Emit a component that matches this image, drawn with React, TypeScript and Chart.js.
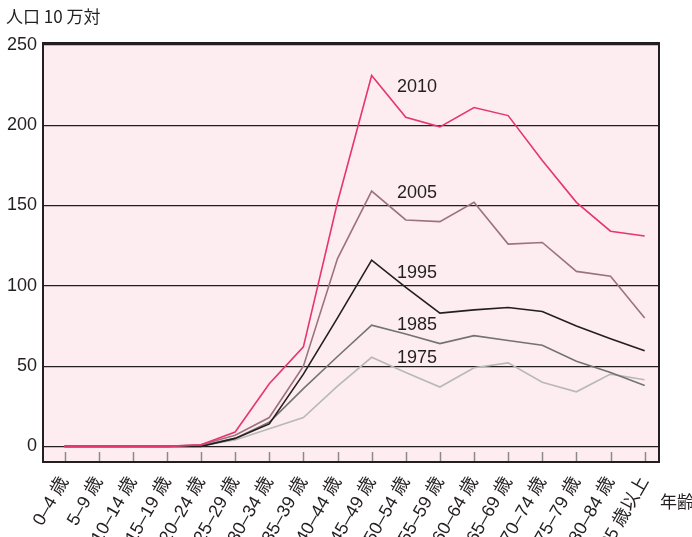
import { useEffect, useRef } from 'react';
import { Chart, registerables } from 'chart.js';

Chart.register(...registerables);

const ageGroups = [
  '0–4 歳', '5–9 歳', '10–14 歳', '15–19 歳', '20–24 歳', '25–29 歳',
  '30–34 歳', '35–39 歳', '40–44 歳', '45–49 歳', '50–54 歳', '55–59 歳',
  '60–64 歳', '65–69 歳', '70–74 歳', '75–79 歳', '80–84 歳', '85 歳以上',
];
const years = ['2010', '2005', '1995', '1985', '1975'];
const rate2010 = [0, 0, 0, 0, 1, 9, 39, 62, 152, 231, 205, 199, 211, 206, 178, 152, 134, 131];
const rate2005 = [0, 0, 0, 0, 1, 7, 18, 50, 117, 159, 141, 140, 152, 126, 127, 109, 106, 80];
const rate1995 = [0, 0, 0, 0, 0, 5, 14, 45, 80, 116, 99, 83, 85, 86.5, 84, 75, 67, 59.5];
const rate1985 = [0, 0, 0, 0, 0.5, 5, 15, 36, 56, 75.5, 70, 64, 69, 66, 63, 53, 46, 38];
const rate1975 = [0, 0, 0, 0, 0.5, 4, 11, 18, 37.5, 55.5, 46, 37, 49, 52, 40, 34, 45, 41.5];
const yTicks = [0, 50, 100, 150, 200, 250];
const yTitle = '人口 10 万対';
const xTitle = '年齢';

const seriesValues = [rate2010, rate2005, rate1995, rate1985, rate1975];
const seriesColors = ['#e6366f', '#9d7280', '#231f20', '#737373', '#b8b8b8'];
// label anchors in data units (x index, y value)
const labelAnchorX = 9.74;
const labelAnchorY = [223.5, 158, 108, 75.7, 55.2];

const INK = '#231f20';
const LATIN = '"Liberation Sans", Arial, "Noto Sans CJK JP", sans-serif';
const CJK = '"Noto Sans CJK JP", "Liberation Sans", sans-serif';

const decoPlugin = {
  id: 'deco',
  beforeDraw(chart: any) {
    const { ctx, chartArea: a } = chart;
    ctx.save();
    ctx.fillStyle = '#fdedf0';
    ctx.fillRect(a.left, a.top, a.right - a.left, a.bottom - a.top);
    ctx.restore();
  },
  afterDatasetsDraw(chart: any) {
    const { ctx, scales } = chart;
    ctx.save();
    ctx.fillStyle = INK;
    ctx.font = `18px ${LATIN}`;
    ctx.textAlign = 'left';
    ctx.textBaseline = 'middle';
    years.forEach((name, i) => {
      ctx.fillText(name, scales.x.getPixelForValue(labelAnchorX), scales.y.getPixelForValue(labelAnchorY[i]));
    });
    ctx.restore();
  },
  afterDraw(chart: any) {
    const { ctx, chartArea: a, scales } = chart;
    ctx.save();
    ctx.strokeStyle = '#8a8a8a';
    ctx.lineWidth = 1.5;
    ageGroups.forEach((_, i) => {
      const x = Math.round(scales.x.getPixelForValue(i)) + 0.5;
      ctx.beginPath();
      ctx.moveTo(x, a.bottom - 10);
      ctx.lineTo(x, a.bottom);
      ctx.stroke();
    });
    ctx.strokeStyle = INK;
    ctx.lineWidth = 2;
    ctx.strokeRect(a.left, a.top, a.right - a.left, a.bottom - a.top);
    ctx.fillStyle = INK;
    ctx.font = `17px ${CJK}`;
    ctx.textBaseline = 'middle';
    ctx.textAlign = 'left';
    ctx.fillText(yTitle, 6, 17);
    ctx.fillText(xTitle, 660, 502);
    ctx.restore();
  },
};

export default function App() {
  const ref = useRef<HTMLCanvasElement | null>(null);

  useEffect(() => {
    if (!ref.current) return;
    const chart = new Chart(ref.current, {
      type: 'line',
      data: {
        datasets: years.map((name, i) => ({
          label: name,
          data: seriesValues[i].map((v, j) => ({ x: j, y: v })),
          borderColor: seriesColors[i],
          backgroundColor: seriesColors[i],
          borderWidth: 1.6,
          pointRadius: 0,
          tension: 0,
          fill: false,
        })),
      },
      options: {
        animation: false,
        responsive: false,
        maintainAspectRatio: false,
        layout: { padding: { left: 0, right: 33, top: 43, bottom: 0 } },
        plugins: { legend: { display: false }, tooltip: { enabled: false } },
        scales: {
          x: {
            type: 'linear',
            min: -0.63,
            max: 17.42,
            afterBuildTicks: (s: any) => {
              s.ticks = ageGroups.map((_, i) => ({ value: i }));
            },
            afterFit: (s: any) => {
              s.height = 75;
            },
            grid: { display: false },
            border: { display: false },
            ticks: {
              autoSkip: false,
              minRotation: 60,
              maxRotation: 60,
              padding: 3,
              color: INK,
              font: { family: LATIN, size: 18 },
              callback: (v: any) => ageGroups[Math.round(Number(v))] ?? '',
            },
          },
          y: {
            type: 'linear',
            min: -9.7,
            max: 251.2,
            afterBuildTicks: (s: any) => {
              s.ticks = yTicks.map((v) => ({ value: v }));
            },
            afterFit: (s: any) => {
              s.width = 43;
            },
            grid: { color: INK, lineWidth: 1.2, drawTicks: false },
            border: { display: false },
            ticks: {
              padding: 6,
              color: INK,
              font: { family: LATIN, size: 18 },
              callback: (v: any) => String(v),
            },
          },
        },
      },
      plugins: [decoPlugin],
    });
    return () => chart.destroy();
  }, []);

  return (
    <div style={{ position: 'fixed', left: 0, top: 0, width: 692, height: 537, background: '#fff' }}>
      <canvas ref={ref} width={692} height={537} style={{ width: 692, height: 537, display: 'block' }} />
    </div>
  );
}
